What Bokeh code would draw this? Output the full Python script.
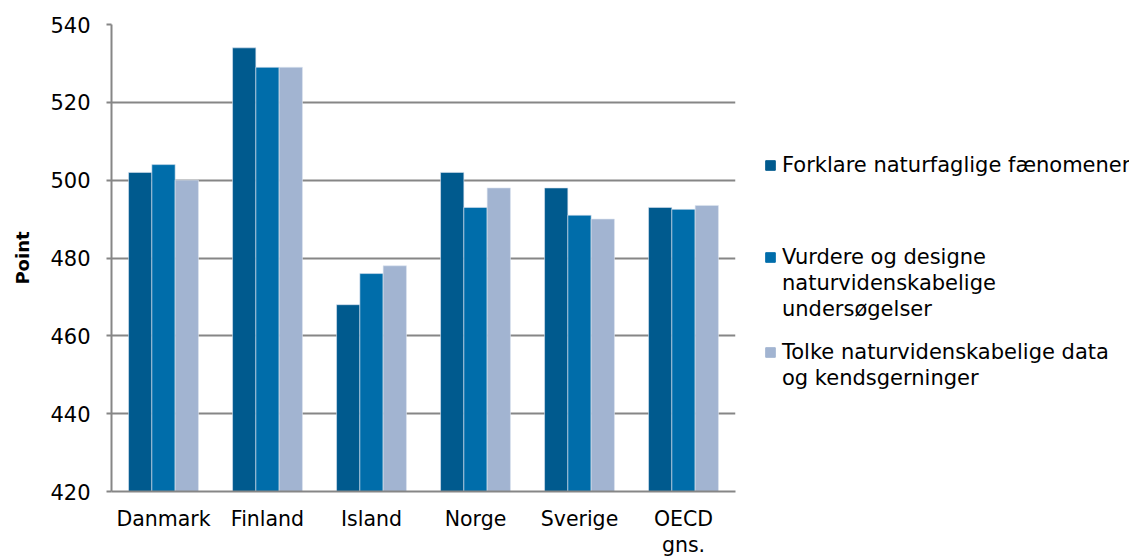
from bokeh.plotting import figure
from bokeh.layouts import row
from bokeh.models import ColumnDataSource, FactorRange, Range1d, FixedTicker, Legend, LegendItem
from bokeh.transform import dodge
from bokeh.embed import file_html
from bokeh.resources import INLINE

categories = ["Danmark", "Finland", "Island", "Norge", "Sverige", "OECD\ngns."]
forklare = [502, 534, 468, 502, 498, 493]
vurdere = [504, 529, 476, 493, 491, 492.5]
tolke = [500, 529, 478, 498, 490, 493.5]
series_keys = ["forklare", "vurdere", "tolke"]
# legend text, wrapped as in the reference; first line carries the swatch
legend_lines = [
    ["Forklare naturfaglige fænomener"],
    ["Vurdere og designe", "naturvidenskabelige", "undersøgelser"],
    ["Tolke naturvidenskabelige data", "og kendsgerninger"],
]
colors = ["#005A8E", "#006DAA", "#A2B4D1"]
y_ticks = [420, 440, 460, 480, 500, 520, 540]

FONT = "DejaVu Sans"
H = 557

source = ColumnDataSource(dict(cat=categories, forklare=forklare, vurdere=vurdere, tolke=tolke))

p = figure(
    x_range=FactorRange(*categories), y_range=Range1d(420, 540),
    frame_width=624, frame_height=467, output_backend="svg", toolbar_location=None,
    min_border_left=111, min_border_right=10, min_border_top=24, min_border_bottom=H - 24 - 467,
)
p.outline_line_color = None
p.background_fill_color = "white"

bw = 0.224
for off, key, col in zip([-bw, 0, bw], series_keys, colors):
    p.vbar(x=dodge("cat", off, range=p.x_range), top=key, bottom=420, width=bw,
           source=source, fill_color=col, line_color="#DCE4F0", line_alpha=0.6, line_width=1)

# axes
p.yaxis.ticker = FixedTicker(ticks=y_ticks)
p.yaxis.axis_line_color = "#868686"
p.yaxis.axis_line_width = 2
p.yaxis.major_tick_line_color = "#868686"
p.yaxis.major_tick_line_width = 2
p.yaxis.major_tick_out = 5
p.yaxis.major_tick_in = 0
p.yaxis.minor_tick_line_color = None
p.yaxis.major_label_standoff = 16
p.yaxis.major_label_text_font = FONT
p.yaxis.major_label_text_font_size = "21px"
p.yaxis.major_label_text_color = "#000000"
p.yaxis.axis_label = "Point"
p.yaxis.axis_label_text_font = FONT
p.yaxis.axis_label_text_font_style = "bold"
p.yaxis.axis_label_text_font_size = "18px"
p.yaxis.axis_label_text_color = "#000000"
p.yaxis.axis_label_standoff = 14

p.xaxis.axis_line_color = "#868686"
p.xaxis.axis_line_width = 2
p.xaxis.major_tick_line_color = None
p.xaxis.minor_tick_line_color = None
p.xaxis.major_label_standoff = 9
p.xaxis.major_label_text_font = FONT
p.xaxis.major_label_text_font_size = "20.5px"
p.xaxis.major_label_text_color = "#000000"
p.xaxis.major_label_text_line_height = 1.12

p.xgrid.grid_line_color = None
p.ygrid.ticker = FixedTicker(ticks=y_ticks)
p.ygrid.grid_line_color = "#868686"
p.ygrid.grid_line_width = 2
p.ygrid.level = "underlay"

# legend panel to the right
p2 = figure(width=384, height=H, output_backend="svg", toolbar_location=None,
            x_axis_location=None, y_axis_location=None, min_border=0,
            x_range=Range1d(0, 1), y_range=Range1d(0, 1))
p2.outline_line_color = None
p2.grid.visible = False
# swatch renderers sit outside the visible range; only their legend glyph shows
swatches = [p2.vbar(x=[5], top=[5], bottom=[4], width=0.1, fill_color=c, line_color=c) for c in colors]
blank = p2.vbar(x=[5], top=[5], bottom=[4], width=0.1, fill_alpha=0, line_alpha=0)

LINE = 26
SHIFT = 74  # empirical correction of legend placement

def add_legend(label, rend, center_y):
    vy = H - (center_y + LINE / 2) - SHIFT
    lg = Legend(items=[LegendItem(label=label, renderers=[rend])], location=(19, vy),
                padding=0, margin=0, spacing=0, border_line_alpha=0, background_fill_alpha=0,
                glyph_width=12, glyph_height=12, label_standoff=6, label_height=LINE,
                label_text_font=FONT, label_text_font_size="21px",
                label_text_color="#000000")
    p2.add_layout(lg, "center")

first_centers = [160, 252, 347]
for i in range(3):
    for j, line in enumerate(legend_lines[i]):
        add_legend(line, swatches[i] if j == 0 else blank, first_centers[i] + j * LINE)

layout = row(p, p2)
open("out.html", "w").write(file_html(layout, INLINE))
